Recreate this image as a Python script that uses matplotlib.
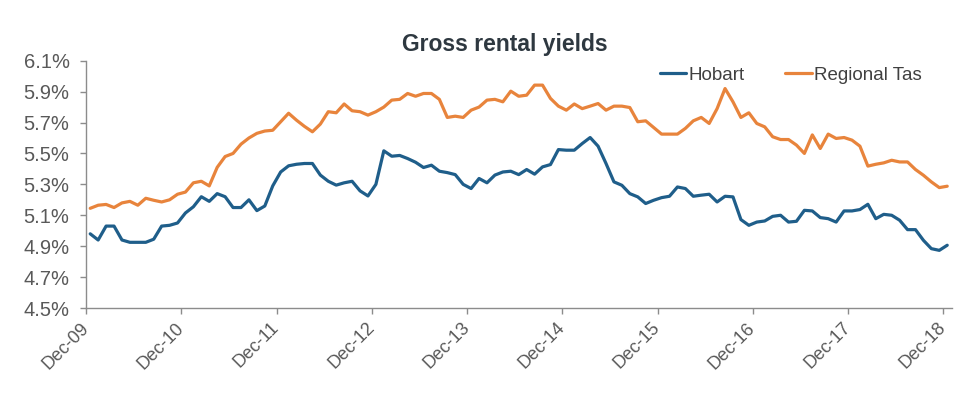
import matplotlib
matplotlib.use("Agg")
from matplotlib import pyplot as plt
from matplotlib.transforms import ScaledTranslation
import numpy as np

# monthly gross rental yields (%), Dec-09 .. Dec-18
hobart = [4.98, 4.94, 5.03, 5.03, 4.94, 4.925, 4.925, 4.925, 4.945, 5.03, 5.035, 5.05,
          5.115, 5.155, 5.22, 5.19, 5.24, 5.22, 5.15, 5.15, 5.20, 5.13, 5.16, 5.29,
          5.38, 5.42, 5.43, 5.435, 5.435, 5.36, 5.32, 5.295, 5.31, 5.32, 5.258, 5.225,
          5.30, 5.517, 5.482, 5.487, 5.467, 5.443, 5.409, 5.424, 5.385, 5.376, 5.363, 5.30,
          5.273, 5.338, 5.31, 5.36, 5.38, 5.385, 5.363, 5.396, 5.366, 5.413, 5.428, 5.525,
          5.521, 5.521, 5.564, 5.603, 5.547, 5.435, 5.316, 5.294, 5.24, 5.219, 5.176, 5.197,
          5.214, 5.223, 5.283, 5.273, 5.223, 5.23, 5.236, 5.186, 5.223, 5.219, 5.072, 5.035,
          5.056, 5.063, 5.093, 5.10, 5.056, 5.061, 5.132, 5.128, 5.085, 5.078, 5.056, 5.128,
          5.128, 5.137, 5.171, 5.078, 5.106, 5.10, 5.068, 5.007, 5.007, 4.938, 4.884, 4.873,
          4.906]
regional_tas = [5.145, 5.165, 5.17, 5.15, 5.18, 5.19, 5.165, 5.21, 5.197, 5.186, 5.20, 5.236,
                5.25, 5.31, 5.32, 5.29, 5.41, 5.48, 5.50, 5.56, 5.60, 5.63, 5.645, 5.65,
                5.705, 5.76, 5.715, 5.675, 5.64, 5.69, 5.77, 5.763, 5.82, 5.776, 5.77, 5.748,
                5.77, 5.80, 5.845, 5.85, 5.888, 5.87, 5.888, 5.888, 5.85, 5.733, 5.741, 5.733,
                5.78, 5.80, 5.845, 5.85, 5.834, 5.903, 5.87, 5.877, 5.942, 5.942, 5.856, 5.806,
                5.78, 5.82, 5.79, 5.806, 5.823, 5.78, 5.806, 5.806, 5.797, 5.705, 5.711, 5.668,
                5.625, 5.625, 5.625, 5.662, 5.711, 5.733, 5.694, 5.79, 5.92, 5.834, 5.733, 5.763,
                5.694, 5.672, 5.608, 5.59, 5.59, 5.554, 5.50, 5.62, 5.532, 5.625, 5.597, 5.603,
                5.586, 5.547, 5.418, 5.43, 5.439, 5.456, 5.445, 5.445, 5.396, 5.359, 5.316, 5.279,
                5.288]
tick_labels = ["Dec-09", "Dec-10", "Dec-11", "Dec-12", "Dec-13",
               "Dec-14", "Dec-15", "Dec-16", "Dec-17", "Dec-18"]
y_ticks = [4.5, 4.7, 4.9, 5.1, 5.3, 5.5, 5.7, 5.9, 6.1]

plt.rcParams['font.family'] = ['Liberation Sans', 'DejaVu Sans']

BLUE = "#1f5e8a"
ORANGE = "#e8843c"
GREY = "#595959"

fig = plt.figure(figsize=(9.78, 4.11), dpi=100)
ax = fig.add_axes([0.0882, 0.2506, 0.9734 - 0.0882, 0.8523 - 0.2506])

# points sit in the middle of each month
x = np.arange(len(hobart)) + 0.5
ax.plot(x, hobart, color=BLUE, linewidth=2.3, label="Hobart", solid_capstyle="round")
ax.plot(x, regional_tas, color=ORANGE, linewidth=2.3, label="Regional Tas", solid_capstyle="round")

ax.set_xlim(0, 109.1)
ax.set_ylim(4.5, 6.1)
ax.set_yticks(y_ticks)
ax.set_yticklabels([f"{v:.1f}%" for v in y_ticks], fontsize=14.5, color=GREY)
ax.set_xticks(np.arange(len(tick_labels)) * 12)
ax.set_xticklabels(tick_labels, rotation=45, ha="right", va="center", rotation_mode="anchor",
                   fontsize=13, color=GREY)
# nudge the rotated labels a little to the right, like the original
for lab in ax.get_xticklabels():
    lab.set_transform(lab.get_transform() + ScaledTranslation(8 / 100, 0, fig.dpi_scale_trans))

for side in ("top", "right"):
    ax.spines[side].set_visible(False)
for side in ("left", "bottom"):
    ax.spines[side].set_color("#8c8c8c")
    ax.spines[side].set_linewidth(1.0)
ax.tick_params(axis="both", direction="out", length=4, color="#8c8c8c", width=1)
ax.tick_params(axis="y", pad=8)
ax.tick_params(axis="x", pad=8.5)

fig.text(505 / 978, 1 - 45 / 411, "Gross rental yields", ha="center", va="center",
         fontsize=16.5, fontweight="bold", color="#2e3840")

ax.legend(loc="center left", bbox_to_anchor=(660 / 978, 1 - 75 / 411),
          bbox_transform=fig.transFigure, ncol=2, frameon=False, fontsize=13.5,
          borderpad=0, borderaxespad=0,
          handlelength=1.4, handletextpad=0.1, columnspacing=2.2, labelcolor="#404040")

fig.savefig("out.png", dpi=100)
